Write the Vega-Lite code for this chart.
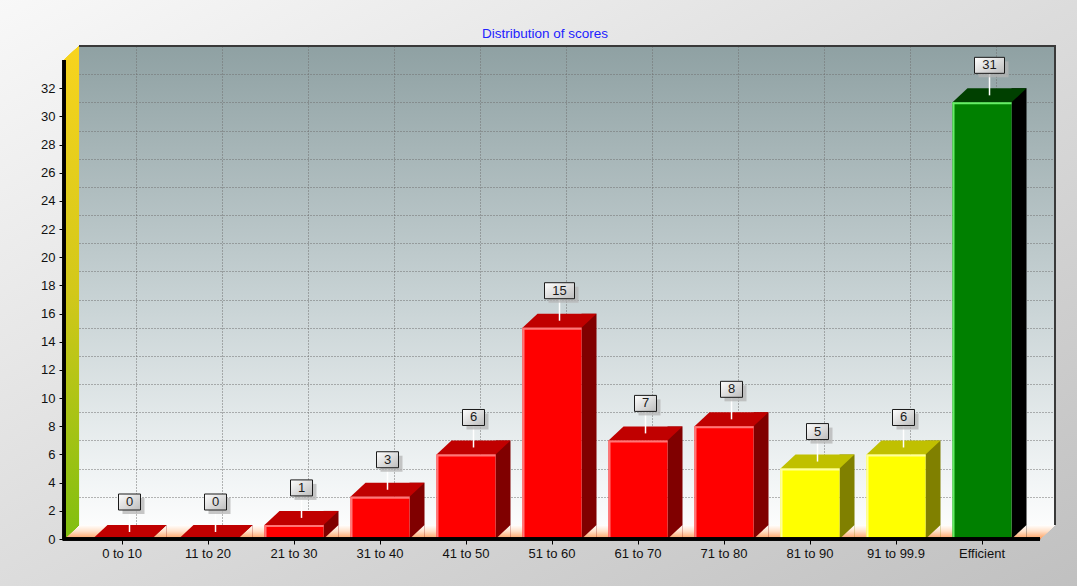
{
  "$schema": "https://vega.github.io/schema/vega-lite/v6.json",
  "width": 991,
  "height": 493,
  "autosize": {"type": "none"},
  "padding": {"left": 64, "top": 46, "right": 22, "bottom": 47},
  "background": "#dadada",
  "title": {"text": "Distribution of scores", "color": "#2222ff", "font": "Liberation Sans", "fontSize": 13.5, "fontWeight": "normal", "anchor": "middle", "frame": "group", "dx": -14.5, "offset": -40, "zindex": 1},
  "config": {
    "font": "Liberation Sans",
    "view": {
      "stroke": null,
      "fill": {"gradient": "linear", "x1": 0, "y1": 0, "x2": 0, "y2": 1, "stops": [{"offset": 0, "color": "#8fa1a3"}, {"offset": 0.5, "color": "#c6d1d3"}, {"offset": 0.85, "color": "#eef2f3"}, {"offset": 1, "color": "#ffffff"}]}
    }
  },
  "data": {"values": [
    {"cat": "0 to 10", "value": 0, "grp": "red"},
    {"cat": "11 to 20", "value": 0, "grp": "red"},
    {"cat": "21 to 30", "value": 1, "grp": "red"},
    {"cat": "31 to 40", "value": 3, "grp": "red"},
    {"cat": "41 to 50", "value": 6, "grp": "red"},
    {"cat": "51 to 60", "value": 15, "grp": "red"},
    {"cat": "61 to 70", "value": 7, "grp": "red"},
    {"cat": "71 to 80", "value": 8, "grp": "red"},
    {"cat": "81 to 90", "value": 5, "grp": "yellow"},
    {"cat": "91 to 99.9", "value": 6, "grp": "yellow"},
    {"cat": "Efficient", "value": 31, "grp": "green"}
  ]},
  "resolve": {"scale": {"x": "independent", "y": "independent"}},
  "layer": [
    {
      "mark": {"type": "point", "opacity": 0},
      "encoding": {
        "x": {"field": "cat", "type": "nominal", "scale": {"type": "band", "domain": ["0 to 10", "11 to 20", "21 to 30", "31 to 40", "41 to 50", "51 to 60", "61 to 70", "71 to 80", "81 to 90", "91 to 99.9", "Efficient"], "paddingInner": 0.314, "paddingOuter": 0.4186, "align": 0.604}, "axis": {"orient": "bottom", "title": null, "labels": false, "ticks": false, "domain": false, "grid": true, "gridColor": "#6e6e6e", "gridDash": [1, 2], "gridWidth": 1, "zindex": 0}},
        "y": {"field": "value", "type": "quantitative", "scale": {"domain": [-0.994, 34.006], "nice": false, "zero": false}, "axis": {"orient": "left", "title": null, "labels": false, "ticks": false, "domain": false, "grid": true, "values": [0, 2, 4, 6, 8, 10, 12, 14, 16, 18, 20, 22, 24, 26, 28, 30, 32], "gridColor": "#6e6e6e", "gridDash": [1, 2], "gridWidth": 1, "zindex": 0}}
      }
    },
    {
      "encoding": {
        "x": {"field": "cat", "type": "nominal", "scale": {"type": "band", "domain": ["0 to 10", "11 to 20", "21 to 30", "31 to 40", "41 to 50", "51 to 60", "61 to 70", "71 to 80", "81 to 90", "91 to 99.9", "Efficient"], "paddingInner": 0.314, "paddingOuter": 0.4186, "align": 0.396}, "axis": {"title": null, "orient": "bottom", "domain": false, "grid": false, "ticks": true, "tickSize": 5, "tickColor": "#000000", "tickWidth": 1, "labelFontSize": 13, "labelColor": "#111111", "labelFont": "Liberation Sans", "labelPadding": 3, "labelAngle": 0, "zindex": 1}},
        "y": {"field": "value", "type": "quantitative", "scale": {"domain": [0, 35], "nice": false, "zero": true}, "axis": {"title": null, "orient": "left", "values": [0, 2, 4, 6, 8, 10, 12, 14, 16, 18, 20, 22, 24, 26, 28, 30, 32], "domain": false, "grid": false, "tickSize": 5, "tickColor": "#000000", "labelFontSize": 13, "labelFont": "Liberation Sans", "labelColor": "#111111", "labelPadding": 4, "zindex": 1}}
      },
      "layer": [
        {
          "mark": {"type": "point", "shape": "M-70,-539 L1020,-539 L1020,52 L-70,52 Z M0,0 L976,0 L991,-14 L991,-493 L15,-493 L0,-479 Z", "size": 4, "filled": true, "strokeWidth": 0, "opacity": 1, "xOffset": -58,
            "fill": {"gradient": "linear", "x1": 0, "y1": 0, "x2": 1, "y2": 1, "stops": [{"offset": 0, "color": "#f8f8f8"}, {"offset": 1, "color": "#c0c0c0"}]}},
          "encoding": {"x": {"datum": "0 to 10", "type": "nominal"}, "y": {"datum": 0, "type": "quantitative"}}
        },
        {
          "mark": {"type": "point", "shape": "M0,0 L976,0 L991,-14 L15,-14 Z", "size": 4, "filled": true, "strokeWidth": 0, "opacity": 1, "xOffset": -58,
            "fill": {"gradient": "linear", "x1": 0, "y1": 0, "x2": 0, "y2": 1, "stops": [{"offset": 0, "color": "#ffffff"}, {"offset": 0.45, "color": "#ffe0c8"}, {"offset": 1, "color": "#ff9e5c"}]}},
          "encoding": {"x": {"datum": "0 to 10", "type": "nominal"}, "y": {"datum": 0, "type": "quantitative"}}
        },
        {
          "mark": {"type": "point", "shape": "M0,0 L0,-479 L15,-493 L15,-14 Z", "size": 4, "filled": true, "strokeWidth": 0, "opacity": 1, "xOffset": -58,
            "fill": {"gradient": "linear", "x1": 0, "y1": 0, "x2": 0, "y2": 1, "stops": [{"offset": 0, "color": "#f8d41e"}, {"offset": 0.5, "color": "#d2c81a"}, {"offset": 1, "color": "#80bf10"}]}},
          "encoding": {"x": {"datum": "0 to 10", "type": "nominal"}, "y": {"datum": 0, "type": "quantitative"}}
        },
        {
          "mark": {"type": "point", "shape": "M15,-493 L991,-493 L991,-14", "size": 4, "filled": false, "stroke": "#3a3a3a", "strokeWidth": 1.5, "opacity": 1, "xOffset": -58},
          "encoding": {"x": {"datum": "0 to 10", "type": "nominal"}, "y": {"datum": 0, "type": "quantitative"}}
        },
        {
          "mark": {"type": "bar", "width": 15, "xOffset": 37, "yOffset": -14, "opacity": 1},
          "encoding": {
            "y2": {"datum": 0},
            "color": {"condition": [{"test": "datum.grp === 'yellow'", "value": "#808000"}, {"test": "datum.grp === 'green'", "value": "#000000"}], "value": "#800000"}
          }
        },
        {
          "mark": {"type": "point", "shape": "M29.5,0 L44.5,0 L44.5,-14 Z", "size": 4, "filled": true, "strokeWidth": 0, "opacity": 1,
            "fill": {"gradient": "linear", "x1": 0, "y1": 0, "x2": 0, "y2": 1, "stops": [{"offset": 0, "color": "#ffffff"}, {"offset": 0.45, "color": "#ffe0c8"}, {"offset": 1, "color": "#ff9e5c"}]}},
          "encoding": {"y": {"datum": 0, "type": "quantitative"}}
        },
        {
          "mark": {"type": "bar", "width": 59, "opacity": 1},
          "encoding": {
            "y2": {"datum": 0},
            "color": {"condition": [{"test": "datum.grp === 'yellow'", "value": "#ffff00"}, {"test": "datum.grp === 'green'", "value": "#008000"}], "value": "#ff0000"}
          }
        },
        {
          "transform": [{"filter": "datum.value > 0"}],
          "mark": {"type": "bar", "width": 2, "xOffset": -28.5, "opacity": 1},
          "encoding": {
            "y2": {"datum": 0},
            "color": {"condition": [{"test": "datum.grp === 'yellow'", "value": "#ffff99"}, {"test": "datum.grp === 'green'", "value": "#66ee66"}], "value": "#ff7777"}
          }
        },
        {
          "mark": {"type": "point", "shape": "M-29.5,0 L29.5,0 L44.5,-14 L-14.5,-14 Z", "size": 4, "filled": true, "strokeWidth": 0, "opacity": 1},
          "encoding": {
            "color": {"condition": [{"test": "datum.grp === 'yellow'", "value": "#c0c000"}, {"test": "datum.grp === 'green'", "value": "#004000"}], "value": "#c00000"}
          }
        },
        {
          "transform": [{"filter": "datum.value > 0"}],
          "mark": {"type": "point", "shape": "M-29.5,1 L29.5,1", "size": 4, "filled": false, "strokeWidth": 2, "opacity": 1},
          "encoding": {
            "color": {"condition": [{"test": "datum.grp === 'yellow'", "value": "#ffff99"}, {"test": "datum.grp === 'green'", "value": "#66ee66"}], "value": "#ff7777"}
          }
        },
        {
          "mark": {"type": "point", "shape": "M0,-479 L0,0 L976,0", "size": 4, "filled": false, "stroke": "#000000", "strokeWidth": 2.5, "opacity": 1, "xOffset": -58},
          "encoding": {"x": {"datum": "0 to 10", "type": "nominal"}, "y": {"datum": 0, "type": "quantitative"}}
        },
        {
          "mark": {"type": "rule", "color": "#ffffff", "strokeWidth": 1.5, "xOffset": 7.5, "yOffset": -7, "y2Offset": -29, "opacity": 1},
          "encoding": {"y2": {"field": "value"}}
        },
        {
          "mark": {"type": "point", "size": 4, "filled": true, "strokeWidth": 0, "fill": "#b4b4b4", "opacity": 0.75, "xOffset": 11.5, "yOffset": -33},
          "encoding": {
            "shape": {"condition": {"test": "datum.value >= 10", "value": "M-15,-8 L15,-8 L15,8 L-15,8 Z"}, "value": "M-11,-8 L11,-8 L11,8 L-11,8 Z"}
          }
        },
        {
          "mark": {"type": "point", "size": 4, "filled": true, "stroke": "#1a1a1a", "strokeWidth": 1, "opacity": 1, "xOffset": 7.5, "yOffset": -37,
            "fill": {"gradient": "linear", "x1": 0, "y1": 0, "x2": 1, "y2": 1, "stops": [{"offset": 0, "color": "#ffffff"}, {"offset": 1, "color": "#bcbcbc"}]}},
          "encoding": {
            "shape": {"condition": {"test": "datum.value >= 10", "value": "M-15,-8 L15,-8 L15,8 L-15,8 Z"}, "value": "M-11,-8 L11,-8 L11,8 L-11,8 Z"}
          }
        },
        {
          "mark": {"type": "text", "xOffset": 7.5, "yOffset": -37, "fontSize": 13, "font": "Liberation Sans", "color": "#1a1a1a", "align": "center", "baseline": "middle", "opacity": 1},
          "encoding": {"text": {"field": "value", "type": "quantitative"}}
        }
      ]
    }
  ]
}
